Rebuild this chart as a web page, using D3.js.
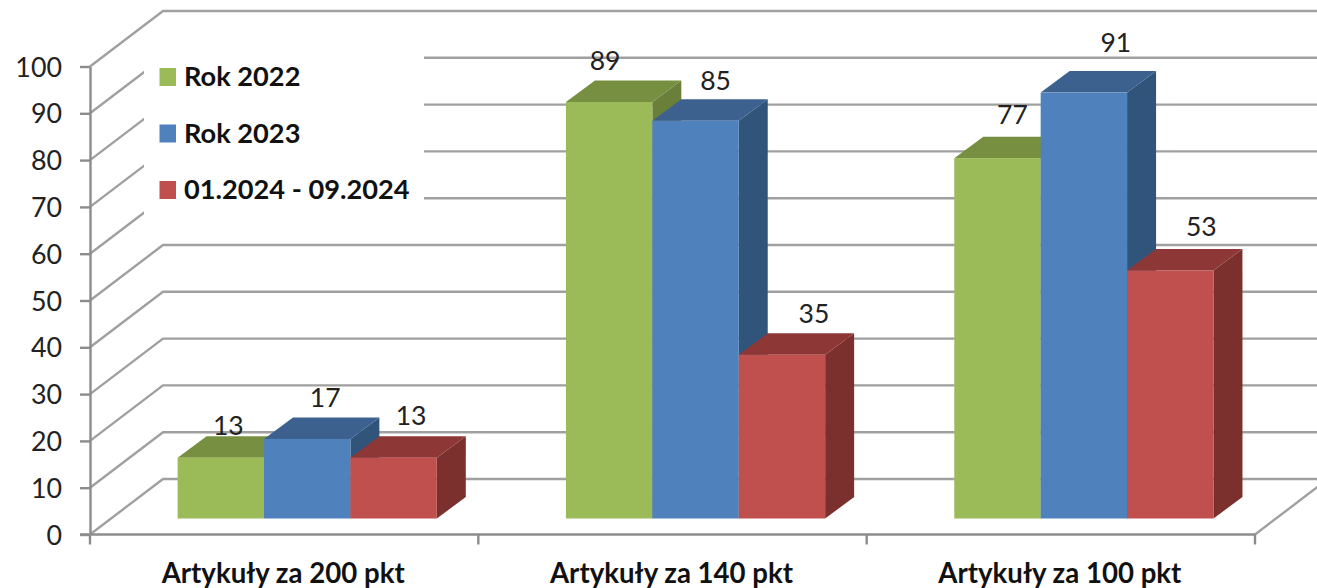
<!DOCTYPE html>
<html>
<head>
<meta charset="utf-8">
<script src="https://cdn.jsdelivr.net/npm/d3@7"></script>
<style>
  html, body { margin: 0; padding: 0; background: #fff; }
  svg { display: block; }
  text { font-family: Lato, "Open Sans", sans-serif; }
</style>
</head>
<body>
<svg id="chart" width="1317" height="588"></svg>
<script>
// Published articles per points band, 3D clustered columns
const categories = ["Artykuły za 200 pkt", "Artykuły za 140 pkt", "Artykuły za 100 pkt"];
const seriesNames = ["Rok 2022", "Rok 2023", "01.2024 - 09.2024"];
const values2022 = [13, 89, 77];
const values2023 = [17, 85, 91];
const values2024 = [13, 35, 53];
const labelNudge2022 = [[7.5, 3], [-4, -6], [15, -9]];
const labelNudge2023 = [[18, -6], [20, -5], [32, -15.5]];
const labelNudge2024 = [[17.5, -7], [32, -6], [31, -8.5]];
const valueTicks = d3.range(0, 101, 10);

const seriesColors = [
  { front: "#9bbb59", top: "#778f40", side: "#6a7f39" },
  { front: "#4f81bd", top: "#3d618f", side: "#31547b" },
  { front: "#c0504d", top: "#8d3836", side: "#7c302e" }
];

const svg = d3.select("#chart");
const gridColor = "#a0a0a0";
const axisColor = "#8c8c8c";
const textColor = "#222";

// Oblique projection: the back wall sits up and to the right of the front plane
const wallDx = 73, wallDy = -55.5;
const barDepthDx = 29, barDepthDy = -21.5;
const floorInset = 16;     // column bases stand this far above the front axis
const groupInset = 87.6;   // first column's left edge inside its category band
const barWidth = 86.4;

const y = d3.scaleLinear().domain([0, 100]).range([534.5, 66.5]);
const x0 = d3.scaleBand().domain(categories).range([90, 1255]);
const x1 = d3.scaleBand().domain(seriesNames).range([0, barWidth * 3]);

// Back wall gridlines and the diagonals running across the left wall
const wall = svg.append("g").attr("fill", "none").attr("stroke", gridColor).attr("stroke-width", 2.4);
wall.selectAll("path.grid").data(valueTicks).join("path")
  .attr("class", "grid")
  .attr("d", t => `M${x0.range()[0]},${y(t)}L${x0.range()[0] + wallDx},${y(t) + wallDy}L1330,${y(t) + wallDy}`);

// Right edge of the floor
wall.append("path")
  .attr("d", `M${x0.range()[1]},${y(0)}L${x0.range()[1] + wallDx},${y(0) + wallDy}`);

// Legend panel masks the gridlines behind it
const legendBox = { x: 144, y: 44, w: 280, h: 184 };
svg.append("rect")
  .attr("x", legendBox.x).attr("y", legendBox.y)
  .attr("width", legendBox.w).attr("height", legendBox.h)
  .attr("fill", "#fff");

// Value axis
const yAxis = svg.append("g")
  .attr("transform", `translate(${x0.range()[0]},0)`)
  .call(d3.axisLeft(y).tickValues(valueTicks).tickSize(10).tickPadding(18).tickSizeOuter(0));
yAxis.select(".domain").attr("stroke", axisColor).attr("stroke-width", 2.4);
yAxis.selectAll(".tick line").attr("stroke", axisColor).attr("stroke-width", 2.4);
yAxis.selectAll(".tick text")
  .attr("font-family", "Lato").attr("font-size", 26.8).attr("fill", textColor)
  .attr("dy", "0.36em");

// Category axis: labels centred in each band, ticks on the band boundaries
const xAxis = svg.append("g")
  .attr("transform", `translate(-1,${y(0)})`)
  .call(d3.axisBottom(x0).tickSize(0).tickPadding(28.5).tickSizeOuter(0));
xAxis.select(".domain").remove();
xAxis.selectAll(".tick text")
  .attr("font-family", "Lato").attr("font-weight", 700).attr("font-size", 27.6).attr("fill", "#111");

const axisLine = svg.append("g").attr("stroke", axisColor).attr("stroke-width", 2.4);
axisLine.append("line")
  .attr("x1", x0.range()[0] - 10).attr("x2", x0.range()[1])
  .attr("y1", y(0)).attr("y2", y(0));
axisLine.selectAll("line.tick")
  .data(categories.map(c => x0(c)).concat(x0.range()[1]))
  .join("line")
  .attr("class", "tick")
  .attr("x1", d => d).attr("x2", d => d)
  .attr("y1", y(0)).attr("y2", y(0) + 10);

// Columns, one cuboid per value, drawn back to front within a cluster
const seriesValues = [values2022, values2023, values2024];
const seriesNudges = [labelNudge2022, labelNudge2023, labelNudge2024];
const points = [];
categories.forEach((c, ci) => {
  seriesNames.forEach((s, si) => {
    points.push({ c, s, si, value: seriesValues[si][ci], nudge: seriesNudges[si][ci] });
  });
});

const bars = svg.append("g").selectAll("g").data(points).join("g")
  .each(function (d) {
    const g = d3.select(this);
    const col = seriesColors[d.si];
    const left = x0(d.c) + groupInset + x1(d.s);
    const right = left + barWidth;
    const base = y(0) - floorInset;
    const top = base - (y(0) - y(d.value));
    const poly = pts => pts.map(p => p.join(",")).join(" ");
    g.append("polygon").attr("fill", col.side)
      .attr("points", poly([[right, top], [right + barDepthDx, top + barDepthDy],
                            [right + barDepthDx, base + barDepthDy], [right, base]]));
    g.append("polygon").attr("fill", col.top)
      .attr("points", poly([[left, top], [left + barDepthDx, top + barDepthDy],
                            [right + barDepthDx, top + barDepthDy], [right, top]]));
    g.append("rect").attr("fill", col.front)
      .attr("x", left).attr("y", top).attr("width", barWidth).attr("height", base - top);
  });

// Value labels above each column
svg.append("g").selectAll("text").data(points).join("text")
  .attr("x", d => x0(d.c) + groupInset + x1(d.s) + barWidth / 2 + d.nudge[0])
  .attr("y", d => y(0) - floorInset - (y(0) - y(d.value)) + barDepthDy + d.nudge[1] - 4)
  .attr("text-anchor", "middle")
  .attr("font-size", 26.5)
  .attr("fill", textColor)
  .text(d => d.value);

// Legend entries
const legendY = d3.scalePoint().domain(seriesNames).range([77, 190]);
const legend = svg.append("g").selectAll("g").data(seriesNames).join("g")
  .attr("transform", s => `translate(159.5,${legendY(s)})`);
legend.append("rect")
  .attr("x", 0).attr("y", -9).attr("width", 16.5).attr("height", 18)
  .attr("fill", (s, i) => seriesColors[i].front);
legend.append("text")
  .attr("x", 24.5).attr("y", 9)
  .attr("font-size", 27.2).attr("font-weight", 700).attr("fill", "#111")
  .text(s => s);
</script>
</body>
</html>
